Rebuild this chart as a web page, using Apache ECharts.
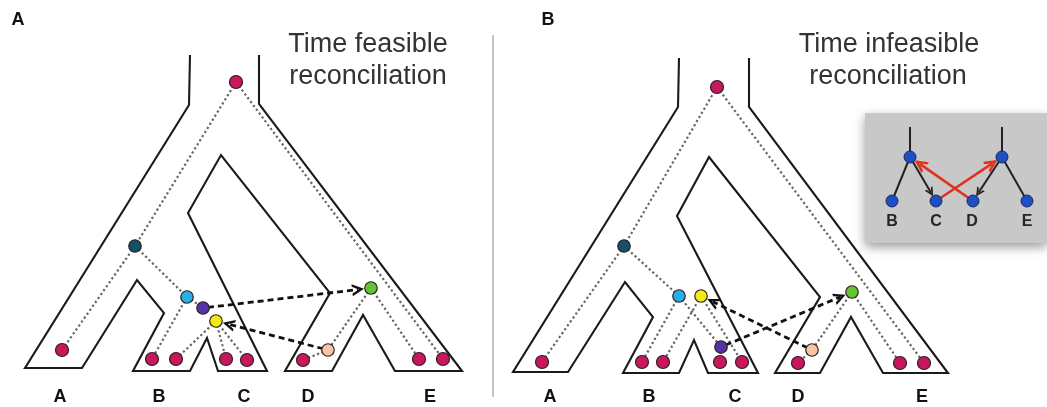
<!DOCTYPE html>
<html><head><meta charset="utf-8">
<script src="https://cdn.jsdelivr.net/npm/echarts@6/dist/echarts.min.js"></script>
<style>html,body{margin:0;padding:0;background:#fff}#c{width:1047px;height:407px}</style>
</head><body><div id="c"></div>
<script>
// ---- species tree outlines (tube drawings) ----
const speciesOutlineA = [[190,55],[189,105],[25,368],[82,368],[137,280],[164,313],[133,371],[190,371],[207,338],[218,371],[267,371],[188,213],[221,155],[330,293],[285,371],[332,371],[363,315],[395,371],[462,371],[259,104],[259,55]];
const speciesOutlineB = [[679,58],[678,107],[513,372],[568,372],[625,282],[653,317],[623,373],[679,373],[694,340],[708,373],[758,373],[677,216],[709,157],[820,297],[775,373],[820,373],[851,317],[883,373],[948,373],[749,107],[749,58]];

// ---- gene tree nodes: [id, x, y, kind] ----
const geneNodesA = [
  ['root',236,82,'tip'],['teal',135,246,'teal'],['cyan',187,297,'cyan'],['purple',203,308,'purple'],
  ['yellow',216,321,'yellow'],['green',371,288,'green'],['peach',328,350,'peach'],
  ['A1',62,350,'tip'],['B1',152,359,'tip'],['B2',176,359,'tip'],['C1',226,359,'tip'],['C2',247,360,'tip'],
  ['D1',303,360,'tip'],['E1',419,359,'tip'],['E2',443,359,'tip']
];
const geneNodesB = [
  ['root',717,87,'tip'],['teal',624,246,'teal'],['cyan',679,296,'cyan'],['yellow',701,296,'yellow'],
  ['purple',721,347,'purple'],['green',852,292,'green'],['peach',812,350,'peach'],
  ['A1',542,362,'tip'],['B1',642,362,'tip'],['B2',663,362,'tip'],['C1',720,362,'tip'],['C2',742,362,'tip'],
  ['D1',798,363,'tip'],['E1',900,363,'tip'],['E2',924,363,'tip']
];
// dotted gene-tree edges
const geneEdgesA = [['root','teal'],['teal','A1'],['teal','cyan'],['cyan','B1'],['cyan','purple'],['yellow','B2'],['yellow','C1'],['yellow','C2'],['root','E2'],['green','E1'],['green','peach'],['peach','D1']];
const geneEdgesB = [['root','teal'],['teal','A1'],['teal','cyan'],['cyan','B1'],['cyan','purple'],['yellow','B2'],['yellow','C2'],['purple','C1'],['root','E2'],['green','E1'],['green','peach'],['peach','D1']];
// dashed horizontal transfers [from, to]
const transfersA = [['purple','green'],['peach','yellow']];
const transfersB = [['purple','green'],['peach','yellow']];

// ---- tip labels ----
const tipLabels = ['A','B','C','D','E'];
const tipLabelXA = [60,159,244,308,430];
const tipLabelXB = [550,649,735,798,922];
const tipLabelY = 397;
const panelLetters = [['A',18,20],['B',548,20]];
const titleTexts = [['Time feasible',368,45],['reconciliation',368,77],['Time infeasible',889,45],['reconciliation',888,77]];
const dividerLine = [[493,35],[493,397]];

// ---- inset (species tree with contradictory transfers) ----
const insetBox = [865,113,1047,243];
const insetNodes = [['L',910,157],['R',1002,157],['B',892,201],['C',936,201],['D',973,201],['E',1027,201]];
const insetStemTops = [['L',910,127],['R',1002,127]];
const insetEdges = [['L','B'],['R','E']];
const insetArrows = [['L','C'],['R','D']];
const insetTransfers = [['C','R'],['D','L']];
const insetLabels = [['B',892,222],['C',936,222],['D',972,222],['E',1027,222]];

// ---- styling ----
const kindColor = {tip:'#c8175d',teal:'#15506b',cyan:'#27afe6',purple:'#5532a6',yellow:'#f4e916',green:'#62c434',peach:'#f8c4a4'};
const chevron = 'path://M0,12 L6,0 L12,12 L9.4,12 L6,5.2 L2.6,12 Z';

function lookup(nodes){const m={};nodes.forEach(n=>{m[n[0]]=[n[1],n[2]];});return m;}
function shorten(p,q,g0,g1){const dx=q[0]-p[0],dy=q[1]-p[1],L=Math.hypot(dx,dy);
  return [[p[0]+dx*g0/L,p[1]+dy*g0/L],[q[0]-dx*g1/L,q[1]-dy*g1/L]];}

const mA=lookup(geneNodesA), mB=lookup(geneNodesB), mI=lookup(insetNodes);
const dotted = geneEdgesA.map(e=>({coords:[mA[e[0]],mA[e[1]]]})).concat(geneEdgesB.map(e=>({coords:[mB[e[0]],mB[e[1]]]})));
const transfers = transfersA.map(e=>({coords:shorten(mA[e[0]],mA[e[1]],5,13)})).concat(transfersB.map(e=>({coords:shorten(mB[e[0]],mB[e[1]],5,13)})));
const nodeData = geneNodesA.concat(geneNodesB).map(n=>({value:[n[1],n[2]],symbolSize:n[3]==='tip'?13:12.5,itemStyle:{color:kindColor[n[3]]}}));

const insetBlack = insetEdges.map(e=>({coords:[mI[e[0]],mI[e[1]]]})).concat(insetStemTops.map(s=>({coords:[[s[1],s[2]],mI[s[0]]]})));
const insetBlackArrows = insetArrows.map(e=>({coords:shorten(mI[e[0]],mI[e[1]],0,10)}));
const insetRed = insetTransfers.map(e=>({coords:shorten(mI[e[0]],mI[e[1]],4,12)}));

const textData = [];
tipLabels.forEach((t,i)=>{textData.push({value:[tipLabelXA[i],tipLabelY],name:t});textData.push({value:[tipLabelXB[i],tipLabelY],name:t});});

function textSeries(data, size, weight, color){
  return {type:'scatter',silent:true,z:9,symbolSize:1,itemStyle:{color:'rgba(0,0,0,0)',opacity:1},
    data:data,
    label:{show:true,position:'inside',formatter:p=>p.name,fontFamily:'Liberation Sans',fontWeight:weight,fontSize:size,color:color,opacity:1,textBorderWidth:0}};
}

const chart = echarts.init(document.getElementById('c'));
chart.setOption({
  animation:false,
  backgroundColor:'#ffffff',
  grid:{left:0,right:0,top:0,bottom:0},
  xAxis:{type:'value',min:0,max:1047,show:false},
  yAxis:{type:'value',min:0,max:407,inverse:true,show:false},
  series:[
    {type:'custom',silent:true,z:1,data:[insetBox],
     renderItem:(params,api)=>{const p0=api.coord([api.value(0),api.value(1)]),p1=api.coord([api.value(2),api.value(3)]);
       return {type:'rect',shape:{x:p0[0],y:p0[1],width:p1[0]-p0[0],height:p1[1]-p0[1]},
         style:{fill:'#c8c8c8',shadowBlur:10,shadowColor:'rgba(0,0,0,0.4)',shadowOffsetY:4}};}},
    {type:'line',data:dividerLine,symbol:'none',silent:true,z:2,lineStyle:{color:'#c4c4c4',width:2}},
    {type:'line',data:speciesOutlineA,symbol:'none',silent:true,z:2,lineStyle:{color:'#1a1a1a',width:2.1,join:'miter'}},
    {type:'line',data:speciesOutlineB,symbol:'none',silent:true,z:2,lineStyle:{color:'#1a1a1a',width:2.1,join:'miter'}},
    {type:'lines',coordinateSystem:'cartesian2d',silent:true,z:3,data:dotted,
     lineStyle:{color:'#666666',width:2.2,type:[2.2,2.6],opacity:1}},
    {type:'lines',coordinateSystem:'cartesian2d',silent:true,z:4,data:transfers,
     symbol:['none',chevron],symbolSize:[1,12],
     lineStyle:{color:'#111111',width:2.8,type:[6,4],opacity:1}},
    {type:'scatter',silent:true,z:5,data:nodeData,itemStyle:{borderColor:'#2e2020',borderWidth:1.2,opacity:1}},
    // inset
    {type:'lines',coordinateSystem:'cartesian2d',silent:true,z:6,data:insetBlack,lineStyle:{color:'#222',width:2,opacity:1}},
    {type:'lines',coordinateSystem:'cartesian2d',silent:true,z:6,data:insetBlackArrows,symbol:['none',chevron],symbolSize:[1,9],lineStyle:{color:'#222',width:2,opacity:1}},
    {type:'lines',coordinateSystem:'cartesian2d',silent:true,z:7,data:insetRed,symbol:['none',chevron],symbolSize:[1,13],lineStyle:{color:'#e2301e',width:2.6,opacity:1}},
    {type:'scatter',silent:true,z:8,data:insetNodes.map(n=>[n[1],n[2]]),symbolSize:12,itemStyle:{color:'#1d4fc4',borderColor:'#1a2a55',borderWidth:1,opacity:1}},
    // texts
    textSeries(textData,18,'bold','#111111'),
    textSeries(panelLetters.map(d=>({value:[d[1],d[2]],name:d[0]})),18,'bold','#111111'),
    textSeries(titleTexts.map(d=>({value:[d[1],d[2]],name:d[0]})),27,'normal','#333333'),
    textSeries(insetLabels.map(d=>({value:[d[1],d[2]],name:d[0]})),16,'bold','#262626')
  ]
});
</script></body></html>
